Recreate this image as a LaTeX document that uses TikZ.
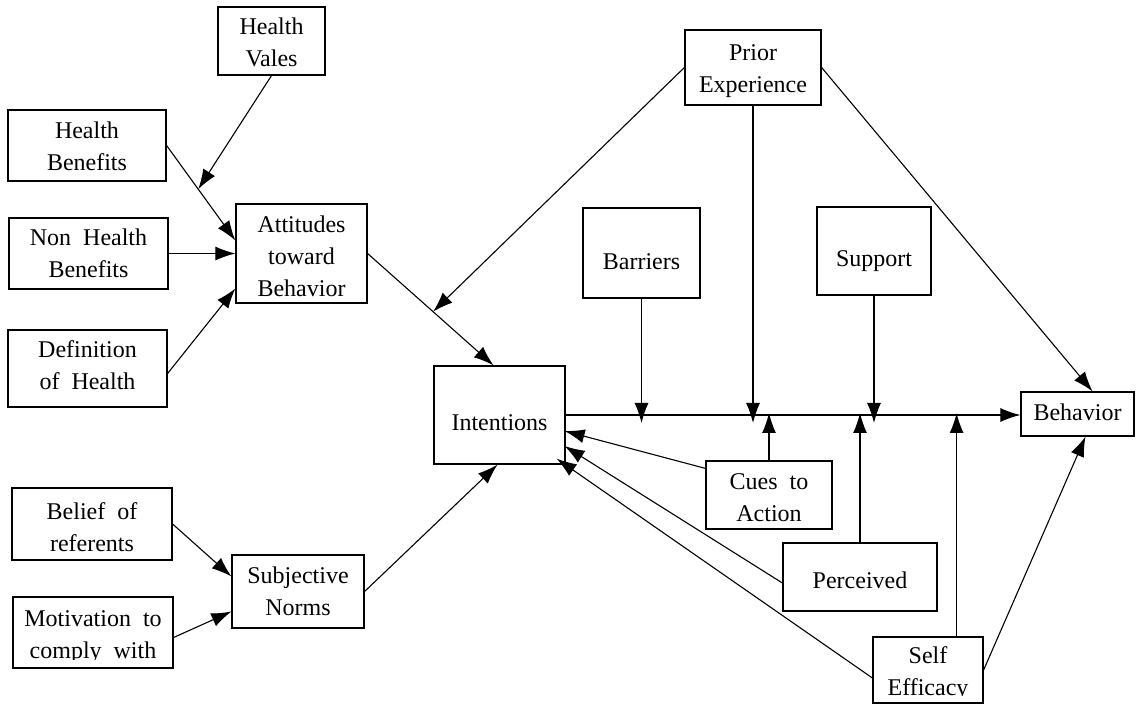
\documentclass[tikz,border=0pt]{standalone}
\usepackage{fontspec}
\setmainfont{Liberation Serif}
\usetikzlibrary{arrows.meta,calc}
\begin{document}
\begin{tikzpicture}[x=0.5pt,y=-0.5pt,
  box/.style={draw,line width=0.6pt,align=center,inner sep=0pt,text depth=0pt,
    font=\fontsize{12}{16}\selectfont},
  bl/.style={text height=#1pt},
  arr/.style={line width=0.55pt,-{Latex[length=10pt,width=7pt]}},
  mask/.style={fill=white,draw=none}]
\useasboundingbox (0,0) rectangle (1140,705);
% nodes
\node[box,bl=26,minimum width=53.5pt,minimum height=34pt] (hv) at (271.5,41) {Health\\Vales};
\node[box,bl=25.5,minimum width=79pt,minimum height=35.5pt] (hb) at (87,145.5) {Health\\Benefits};
\node[box,bl=24.5,minimum width=79.5pt,minimum height=35.5pt] (nhb) at (88.5,253.5) {Non\ \ Health\\Benefits};
\node[box,bl=21.5,minimum width=79.5pt,minimum height=38.5pt] (def) at (87.5,368.5) {Definition\\of\ \ Health};
\node[box,bl=43.5,minimum width=65.5pt,minimum height=49.5pt] (att) at (301.5,253.5) {Attitudes\\toward\\Behavior};
\node[box,bl=27,minimum width=80pt,minimum height=36pt] (bel) at (92,524) {Belief\ \ of\\referents};
\node[box,bl=25.5,minimum width=80pt,minimum height=35.5pt] (mot) at (93,632.5) {Motivation\ \ to\\comply\ \ with};
\node[box,bl=23.5,minimum width=66pt,minimum height=36.5pt] (sn) at (298,591.5) {Subjective\\Norms};
\node[box,bl=15,minimum width=65.5pt,minimum height=49pt] (int) at (499.5,415) {Intentions};
\node[box,bl=25.5,minimum width=68pt,minimum height=37.5pt] (prior) at (753,67.5) {Prior\\Experience};
\node[box,bl=17,minimum width=58.5pt,minimum height=45pt] (bar) at (641.5,253) {Barriers};
\node[box,bl=16,minimum width=57pt,minimum height=44pt] (sup) at (874,251) {Support};
\node[box,bl=26,minimum width=63pt,minimum height=34pt] (cues) at (769,495) {Cues\ \ to\\Action};
\node[box,bl=11,minimum width=77pt,minimum height=34pt] (per) at (860,577) {Perceived};
\node[box,bl=25,minimum width=55pt,minimum height=33pt] (self) at (928,670) {Self\\Efficacy};
\node[box,bl=7,minimum width=56.5pt,minimum height=22pt] (beh) at (1077.5,414) {Behavior};
% clipped descenders as printed
\path[mask] (15,659.5) rectangle (171,665.5);
\path[mask] (875,696) rectangle (981,701.5);
% helper coordinates
\coordinate (hbA) at ($(att.west)+(0,-13)$);
\coordinate (m1) at ($(hb.east)!0.46!(hbA)$);
\coordinate (intN) at ($(int.north)+(-6,0)$);
\coordinate (m2) at ($(att.east)!0.52!(intN)$);
\coordinate (selfup) at ($(self.north east)+(-27,0)$);
% connectors, left part
\draw[arr] (hv.south) -- (m1);
\draw[arr] (hb.east) -- (hbA);
\draw[arr] (nhb.east) -- (att.west);
\draw[arr] ($(def.east)+(0,5)$) -- ($(att.west)+(0,35)$);
\draw[arr] (att.east) -- (intN);
\draw[arr] (bel.east) -- ($(sn.west)+(0,-15)$);
\draw[arr] ($(mot.east)+(0,5)$) -- ($(sn.west)+(0,20)$);
\draw[arr] (sn.east) -- ($(int.south)+(-2,0)$);
% prior experience
\draw[arr] (prior.west) -- (m2);
\draw[arr] (prior.south) -- ($(prior.south |- int.east)+(0,8)$);
\draw[arr] (prior.east) -- ($(beh.north)+(15,0)$);
% main line
\draw[arr] (int.east) -- (int.east -| beh.west);
\draw[arr] (bar.south) -- ($(bar.south |- int.east)+(0,8)$);
\draw[arr] (sup.south) -- ($(sup.south |- int.east)+(0,8)$);
\draw[arr] (cues.north) -- ($(cues.north |- int.east)+(0,-2)$);
\draw[arr] (per.north) -- ($(per.north |- int.east)+(0,-2)$);
\draw[arr] (selfup) -- ($(selfup |- int.east)+(0,-2)$);
\draw[arr] (self.east) -- ($(beh.south)+(8,0)$);
% back to intentions
\draw[arr] ($(cues.north west)+(0,8)$) -- ($(int.east)+(-1,16)$);
\draw[arr] ($(per.west)+(0,6)$) -- ($(int.east)+(-1,31)$);
\draw[arr] ($(self.west)+(0,8)$) -- ($(int.south east)+(-9,-6)$);
\end{tikzpicture}
\end{document}
